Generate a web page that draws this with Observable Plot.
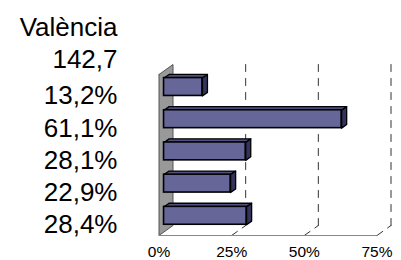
<!DOCTYPE html>
<html><head><meta charset="utf-8">
<script src="https://cdn.jsdelivr.net/npm/d3@7"></script>
<script src="https://cdn.jsdelivr.net/npm/@observablehq/plot@0.6"></script>
<style>body{margin:0;background:#fff}</style>
</head><body><div id="chart"></div>
<script>
// ---- data ----
const headerLabels = ["València", "142,7"];
const values = [0.132, 0.611, 0.281, 0.229, 0.284];
const valueLabels = ["13,2%", "61,1%", "28,1%", "22,9%", "28,4%"];
const ticks = [0, 0.25, 0.5, 0.75];
const tickLabels = ["0%", "25%", "50%", "75%"];

// ---- layout / 3D projection ----
const ROWS = values.length;
const XD = [0, 0.75], XR = [158.5, 376.5];
const YD = [0, ROWS], YR = [74, 235];
const DEPTH = [14, -10];           // pixel offset of full depth (front -> back wall)
const kx = (XD[1] - XD[0]) / (XR[1] - XR[0]);
const ky = (YD[1] - YD[0]) / (YR[1] - YR[0]);
const P = (v, r, d, id) => ({x: v + d * DEPTH[0] * kx, y: r + d * DEPTH[1] * ky, id});
const pad = 0.222, d0 = 0.36, d1 = 0.72;

const wall = [[0,0,0],[0,ROWS,0],[0,ROWS,1],[0,0,1],[0,0,0]].map(([v,r,d]) => P(v,r,d,"wall"));
const grid = ticks.slice(1);
const backGrid = grid.flatMap((t, k) => [P(t,0,1,k), P(t,ROWS,1,k)]);
const floorGrid = grid.flatMap((t, k) => [P(t,ROWS,0,k), P(t,ROWS,1,k)]);
const floorFront = [P(XD[0],ROWS,0,"f"), P(ticks[ticks.length-1],ROWS,0,"f")];

const topFaces = values.flatMap((v, i) => {
  const r0 = i + pad;
  return [[0,r0,d0],[v,r0,d0],[v,r0,d1],[0,r0,d1],[0,r0,d0]].map(([a,b,c]) => P(a,b,c,i));
});
const sideFaces = values.flatMap((v, i) => {
  const r0 = i + pad, r1 = i + 1 - pad;
  return [[v,r0,d0],[v,r1,d0],[v,r1,d1],[v,r0,d1],[v,r0,d0]].map(([a,b,c]) => P(a,b,c,i));
});
const fronts = values.map((v, i) => {
  const a = P(0, i + pad, d0), b = P(v, i + 1 - pad, d0);
  return {x1: a.x, x2: b.x, y1: a.y, y2: b.y};
});

const chart = Plot.plot({
  width: 401, height: 260,
  marginTop: 0, marginRight: 0, marginBottom: 0, marginLeft: 0,
  x: {domain: XD, range: XR, axis: null},
  y: {domain: YD, range: YR, axis: null},
  style: {fontFamily: "'Liberation Sans', Arial, sans-serif", background: "#fff", color: "#000"},
  marks: [
    Plot.line(wall, {x: "x", y: "y", z: "id", fill: "#999999", stroke: "#555", strokeWidth: 1}),
    Plot.line(backGrid, {x: "x", y: "y", z: "id", stroke: "#333", strokeWidth: 1, strokeDasharray: "7,7"}),
    Plot.line(floorGrid, {x: "x", y: "y", z: "id", stroke: "#333", strokeWidth: 1, strokeDasharray: "7,6"}),
    Plot.line(floorFront, {x: "x", y: "y", z: "id", stroke: "#888", strokeWidth: 1.2}),
    Plot.line(topFaces, {x: "x", y: "y", z: "id", fill: "#4f4f80", stroke: "#000", strokeWidth: 1.3, strokeLinejoin: "round"}),
    Plot.line(sideFaces, {x: "x", y: "y", z: "id", fill: "#33335c", stroke: "#000", strokeWidth: 1.3, strokeLinejoin: "round"}),
    Plot.rect(fronts, {x1: "x1", x2: "x2", y1: "y1", y2: "y2", fill: "#666699", stroke: "#000", strokeWidth: 1.6}),
    Plot.text(ticks, {x: d => d, y: () => ROWS, text: (d, i) => tickLabels[i], dy: 21.5, lineAnchor: "bottom", fontSize: 15.5, fill: "#000"}),
    Plot.text(headerLabels, {frameAnchor: "left", y: (d, i) => i - headerLabels.length + 0.5, text: d => d, dx: 117, dy: 9.3, textAnchor: "end", lineAnchor: "bottom", fontSize: 26, fill: "#000"}),
    Plot.text(valueLabels, {frameAnchor: "left", y: (d, i) => i + 0.5, text: d => d, dx: 117, dy: 13.8, textAnchor: "end", lineAnchor: "bottom", fontSize: 26, fill: "#000"})
  ]
});
document.getElementById("chart").appendChild(chart);
</script>
</body></html>
